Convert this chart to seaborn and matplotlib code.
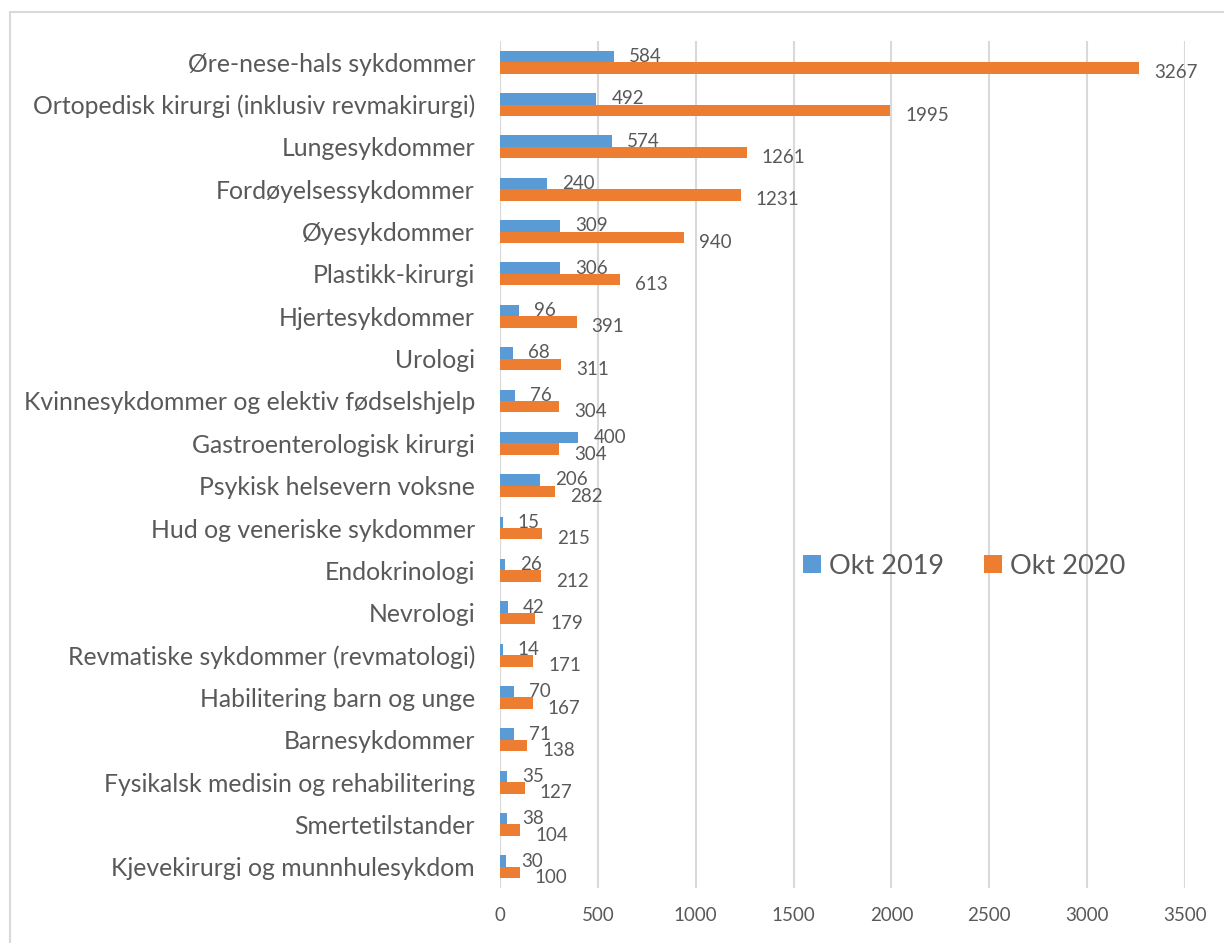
import matplotlib
matplotlib.use("Agg")
import matplotlib.pyplot as plt
import seaborn as sns
import pandas as pd
from matplotlib.patches import Rectangle

categories = [
    "Øre-nese-hals sykdommer",
    "Ortopedisk kirurgi (inklusiv revmakirurgi)",
    "Lungesykdommer",
    "Fordøyelsessykdommer",
    "Øyesykdommer",
    "Plastikk-kirurgi",
    "Hjertesykdommer",
    "Urologi",
    "Kvinnesykdommer og elektiv fødselshjelp",
    "Gastroenterologisk kirurgi",
    "Psykisk helsevern voksne",
    "Hud og veneriske sykdommer",
    "Endokrinologi",
    "Nevrologi",
    "Revmatiske sykdommer (revmatologi)",
    "Habilitering barn og unge",
    "Barnesykdommer",
    "Fysikalsk medisin og rehabilitering",
    "Smertetilstander",
    "Kjevekirurgi og munnhulesykdom",
]
okt_2019 = [584, 492, 574, 240, 309, 306, 96, 68, 76, 400, 206, 15, 26, 42, 14, 70, 71, 35, 38, 30]
okt_2020 = [3267, 1995, 1261, 1231, 940, 613, 391, 311, 304, 304, 282, 215, 212, 179, 171, 167, 138, 127, 104, 100]
series_names = ["Okt 2019", "Okt 2020"]
x_ticks = [0, 500, 1000, 1500, 2000, 2500, 3000, 3500]

BLUE = "#5B9BD5"
ORANGE = "#ED7D31"
TXT = "#595959"
GRID = "#D9D9D9"

df = pd.DataFrame({
    "Kategori": categories * 2,
    "Verdi": okt_2019 + okt_2020,
    "Serie": [series_names[0]] * len(categories) + [series_names[1]] * len(categories),
})

sns.set_theme(style="white")
plt.rcParams["font.family"] = ["Lato", "DejaVu Sans"]

fig = plt.figure(figsize=(12.24, 9.43), dpi=100)
ax = fig.add_axes([500 / 1224, 1 - 888 / 943, (1185 - 500) / 1224, (888 - 41) / 943])

sns.barplot(data=df, y="Kategori", x="Verdi", hue="Serie", order=categories,
            hue_order=series_names, palette=[BLUE, ORANGE], orient="h",
            width=0.54, gap=0, saturation=1, ax=ax, legend=True,
            linewidth=0, edgecolor="none")

ax.set_xlim(0, 3500)
ax.set_ylim(len(categories) - 0.5, -0.5)
ax.set_xticks(x_ticks)
ax.set_xticklabels([str(t) for t in x_ticks])
ax.set_xlabel("")
ax.set_ylabel("")
ax.tick_params(axis="x", labelsize=13.5, colors=TXT, length=0, pad=14)
ax.tick_params(axis="y", labelsize=17.8, colors=TXT, length=0, pad=18)
for sp in ax.spines.values():
    sp.set_visible(False)
ax.xaxis.grid(True, color=GRID, linewidth=1.5)
ax.yaxis.grid(False)
ax.axvline(0, color=GRID, linewidth=1.5, zorder=0.5)
ax.set_axisbelow(True)

# data labels
for container, dy in zip(ax.containers, [0, -5]):
    for bar in container:
        w = bar.get_width()
        yc = bar.get_y() + bar.get_height() / 2
        ax.annotate(f"{int(round(w))}", xy=(w, yc), xytext=(15, dy),
                    textcoords="offset pixels", ha="left", va="center",
                    fontsize=13.5, color=TXT)

leg = ax.legend(loc="center left", bbox_to_anchor=((803 - 500) / 685, 1 - (566 - 41) / 847),
                ncol=2, frameon=False, fontsize=19.5, labelcolor=TXT,
                handlelength=0.65, handleheight=0.65, handletextpad=0.3, columnspacing=1.5,
                borderaxespad=0, borderpad=0)

fig.patches.append(Rectangle((10 / 1224, -0.1), 1.2, 1.1 - 12 / 943,
                             transform=fig.transFigure, fill=False,
                             edgecolor=GRID, linewidth=1.5))

fig.savefig("out.png", dpi=100)
